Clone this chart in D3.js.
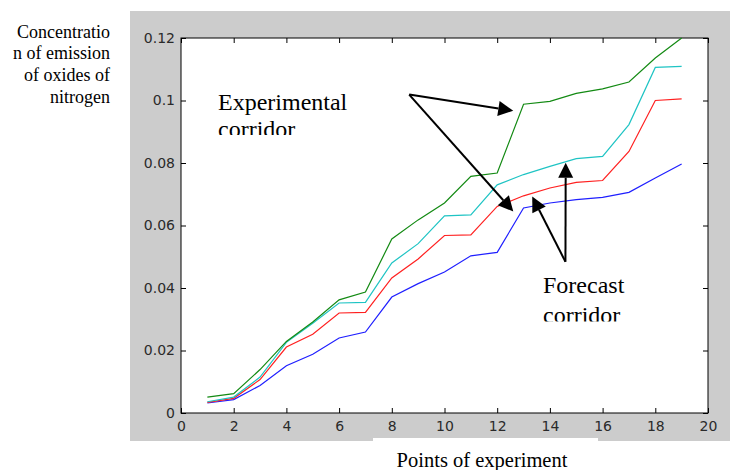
<!DOCTYPE html>
<html>
<head>
<meta charset="utf-8">
<script src="https://cdn.jsdelivr.net/npm/d3@7"></script>
<style>
  body { margin: 0; background: #fff; }
  svg { display: block; }
</style>
</head>
<body>
<script>
// points of experiment 1..19
const points = d3.range(1, 20);

const upperExp = [0.0051, 0.0062, 0.0139, 0.0229, 0.0291, 0.0362, 0.0387, 0.0557, 0.0618, 0.0672, 0.0757, 0.0768, 0.0988, 0.0997, 0.1023, 0.1037, 0.1059, 0.1136, 0.1200];
const upperFc  = [0.0036, 0.0051, 0.0115, 0.0226, 0.0287, 0.0352, 0.0354, 0.0480, 0.0542, 0.0631, 0.0634, 0.0730, 0.0763, 0.0789, 0.0814, 0.0821, 0.0923, 0.1106, 0.1109];
const lowerFc  = [0.0034, 0.0047, 0.0107, 0.0211, 0.0252, 0.0320, 0.0322, 0.0432, 0.0493, 0.0568, 0.0570, 0.0661, 0.0695, 0.0720, 0.0738, 0.0744, 0.0837, 0.1000, 0.1005];
const lowerExp = [0.0032, 0.0043, 0.0088, 0.0151, 0.0188, 0.0240, 0.0259, 0.0371, 0.0414, 0.0451, 0.0503, 0.0514, 0.0656, 0.0672, 0.0683, 0.0690, 0.0706, 0.0752, 0.0797];

const seriesNames = ["lowerExp", "lowerFc", "upperFc", "upperExp"];
const seriesColors = ["#1f1fff", "#ff2020", "#1fc4c4", "#138a13"];

const xTicks = d3.range(0, 21, 2);
const yTicks = [0, 0.02, 0.04, 0.06, 0.08, 0.1, 0.12];
const yTickLabels = ["0", "0.02", "0.04", "0.06", "0.08", "0.1", "0.12"];

// arrows in data units: [fromX, fromY, toX, toY]
const arrowsExp = [[8.66, 0.1019, 12.61, 0.0967], [8.66, 0.1019, 12.61, 0.0645]];
const arrowsFc  = [[14.59, 0.0484, 14.60, 0.0801], [14.59, 0.0484, 13.33, 0.0693]];

const width = 730, height = 470;
const margin = {top: 38, right: 22, bottom: 57, left: 181};

const svg = d3.select("body").append("svg")
  .attr("width", width)
  .attr("height", height);

// grey figure panel
svg.append("rect")
  .attr("x", 130).attr("y", 11)
  .attr("width", 600).attr("height", 430)
  .attr("fill", "#cccccc");

const x = d3.scaleLinear().domain([0, 20]).range([margin.left, width - margin.right]);
const y = d3.scaleLinear().domain([0, 0.12]).range([height - margin.bottom, margin.top]);

svg.append("rect")
  .attr("x", x(0)).attr("y", y(0.12))
  .attr("width", x(20) - x(0)).attr("height", y(0) - y(0.12))
  .attr("fill", "white");

const tickFont = g => g
  .style("font", "14px 'DejaVu Sans', sans-serif")
  .call(g => g.selectAll("text").attr("fill", "#2a2a2a"))
  .call(g => g.selectAll(".tick line").attr("stroke", "#000"))
  .call(g => g.select(".domain").remove());

svg.append("g")
  .attr("transform", `translate(0,${y(0)})`)
  .call(d3.axisBottom(x).tickValues(xTicks).tickSizeInner(-5).tickSizeOuter(0).tickPadding(8))
  .call(tickFont);

svg.append("g")
  .attr("transform", `translate(0,${y(0.12)})`)
  .call(d3.axisTop(x).tickValues(xTicks).tickSizeInner(-5).tickSizeOuter(0).tickFormat(""))
  .call(tickFont);

svg.append("g")
  .attr("transform", `translate(${x(0)},0)`)
  .call(d3.axisLeft(y).tickValues(yTicks).tickSizeInner(-5).tickSizeOuter(0).tickPadding(6)
    .tickFormat((d, i) => yTickLabels[i]))
  .call(tickFont);

svg.append("g")
  .attr("transform", `translate(${x(20)},0)`)
  .call(d3.axisRight(y).tickValues(yTicks).tickSizeInner(-5).tickSizeOuter(0).tickFormat(""))
  .call(tickFont);

// axes box
svg.append("rect")
  .attr("x", x(0)).attr("y", y(0.12))
  .attr("width", x(20) - x(0)).attr("height", y(0) - y(0.12))
  .attr("fill", "none")
  .attr("stroke", "#000")
  .attr("stroke-width", 1);

// lines
const seriesData = {upperExp, upperFc, lowerFc, lowerExp};
const line = d3.line().x((d, i) => x(points[i])).y(d => y(d));

seriesNames.forEach((name, k) => {
  svg.append("path")
    .datum(seriesData[name])
    .attr("fill", "none")
    .attr("stroke", seriesColors[k])
    .attr("stroke-width", 1.2)
    .attr("d", line);
});

// annotations (text boxes cut the second line, as in the original figure)
const defs = svg.append("defs");
defs.append("clipPath").attr("id", "clipExp")
  .append("rect").attr("x", 198).attr("y", 78).attr("width", 170).attr("height", 57);
defs.append("clipPath").attr("id", "clipFc")
  .append("rect").attr("x", 525).attr("y", 263).attr("width", 128).attr("height", 58.5);

const expText = svg.append("g").attr("clip-path", "url(#clipExp)")
  .style("font-family", "'Liberation Serif', 'Times New Roman', serif")
  .style("font-size", "24px");
expText.append("text").attr("x", 218).attr("y", 110).text("Experimental");
expText.append("text").attr("x", 218).attr("y", 137).text("corridor");

const fcText = svg.append("g").attr("clip-path", "url(#clipFc)")
  .style("font-family", "'Liberation Serif', 'Times New Roman', serif")
  .style("font-size", "24px");
fcText.append("text").attr("x", 543).attr("y", 293).text("Forecast");
fcText.append("text").attr("x", 543).attr("y", 323).text("corridor");

function drawArrow(a) {
  const x1 = x(a[0]), y1 = y(a[1]), x2 = x(a[2]), y2 = y(a[3]);
  const ang = Math.atan2(y2 - y1, x2 - x1);
  const len = 15, half = 7.5;
  const bx = x2 - len * Math.cos(ang), by = y2 - len * Math.sin(ang);
  svg.append("line")
    .attr("x1", x1).attr("y1", y1).attr("x2", bx).attr("y2", by)
    .attr("stroke", "#000").attr("stroke-width", 2);
  const px = -Math.sin(ang) * half, py = Math.cos(ang) * half;
  svg.append("path")
    .attr("d", `M${x2},${y2}L${bx + px},${by + py}L${bx - px},${by - py}Z`)
    .attr("fill", "#000");
}
arrowsExp.forEach(drawArrow);
arrowsFc.forEach(drawArrow);

// axis titles
const yLabel = ["Concentratio", "n of emission", "of oxides of", "nitrogen"];
svg.append("text")
  .attr("text-anchor", "end")
  .style("font-family", "'Liberation Serif', 'Times New Roman', serif")
  .style("font-size", "18px")
  .selectAll("tspan")
  .data(yLabel)
  .join("tspan")
    .attr("x", 110)
    .attr("y", (d, i) => 37.5 + i * 21.8)
    .text(d => d);

svg.append("rect")
  .attr("x", 373).attr("y", 438)
  .attr("width", 225).attr("height", 32)
  .attr("fill", "white");

svg.append("text")
  .attr("x", 482).attr("y", 467)
  .attr("text-anchor", "middle")
  .style("font-family", "'Liberation Serif', 'Times New Roman', serif")
  .style("font-size", "20.5px")
  .text("Points of experiment");
</script>
</body>
</html>
